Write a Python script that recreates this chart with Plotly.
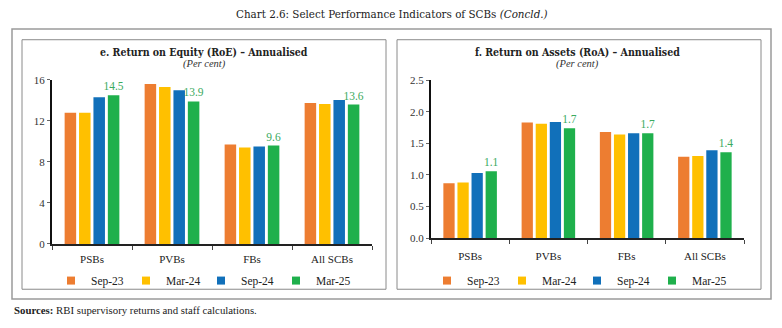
import plotly.graph_objects as go

categories = ["PSBs", "PVBs", "FBs", "All SCBs"]
series_names = ["Sep-23", "Mar-24", "Sep-24", "Mar-25"]
colors = ["#ED7D31", "#FFC000", "#1170BA", "#1FB04C"]

roe_sep23 = [12.8, 15.6, 9.7, 13.75]
roe_mar24 = [12.8, 15.3, 9.4, 13.65]
roe_sep24 = [14.3, 15.0, 9.5, 14.05]
roe_mar25 = [14.5, 13.9, 9.6, 13.6]

roa_sep23 = [0.87, 1.83, 1.68, 1.29]
roa_mar24 = [0.88, 1.81, 1.64, 1.30]
roa_sep24 = [1.03, 1.84, 1.66, 1.39]
roa_mar25 = [1.06, 1.74, 1.66, 1.36]

roe_ticks = [0, 4, 8, 12, 16]
roa_ticks = [0.0, 0.5, 1.0, 1.5, 2.0, 2.5]

W, H = 782, 328
FONT = "Liberation Serif"
TFONT = "DejaVu Serif Condensed, DejaVu Serif"
LABEL_GREEN = "#3AAA5E"

def px(x):
    return x / W

def py(y):
    return 1 - y / H

fig = go.Figure()

roe = [roe_sep23, roe_mar24, roe_sep24, roe_mar25]
roa = [roa_sep23, roa_mar24, roa_sep24, roa_mar25]

panels = [("x", "y", "legend", roe), ("x2", "y2", "legend2", roa)]
for xa, ya, lg, data in panels:
    for i, (name, vals) in enumerate(zip(series_names, data)):
        last = i == 3
        fig.add_trace(go.Bar(
            x=categories, y=vals, name=name, marker_color=colors[i],
            marker_line_width=0, xaxis=xa, yaxis=ya, showlegend=False,
            text=[f"{v:.1f}" for v in vals] if last else None,
            textposition="outside" if last else None,
            constraintext="none",
            textfont=dict(color=LABEL_GREEN, size=11.5, family=FONT),
            cliponaxis=False, hoverinfo="y",
        ))
    # legend entries (small square swatches like the reference)
    for i, name in enumerate(series_names):
        fig.add_trace(go.Scatter(
            x=[None], y=[None], mode="markers", name=name,
            marker=dict(symbol="square", size=8, color=colors[i]),
            xaxis=xa, yaxis=ya, legend=lg, showlegend=True,
        ))

xcommon = dict(
    type="category", showline=True, linecolor="#222", linewidth=1.5,
    ticks="outside", tickson="boundaries", ticklen=4, tickcolor="#444",
    tickfont=dict(family=FONT, size=11, color="#222"), showgrid=False,
    zeroline=False, fixedrange=True,
)
ycommon = dict(
    showline=True, linecolor="#111", linewidth=2, ticks="outside",
    ticklen=3, tickcolor="#666", showgrid=False, zeroline=False,
    tickfont=dict(family=FONT, size=11, color="#333"), fixedrange=True,
)

legend_common = dict(
    orientation="h", xanchor="left", yanchor="middle",
    font=dict(family=FONT, size=11.5, color="#222"),
    entrywidth=30, entrywidthmode="pixels", itemwidth=30,
    bgcolor="rgba(0,0,0,0)", tracegroupgap=0,
)

fig.update_layout(
    width=W, height=H, margin=dict(l=0, r=0, t=0, b=0),
    paper_bgcolor="white", plot_bgcolor="white",
    barmode="group", bargap=0.28, bargroupgap=0.2,
    font=dict(family=FONT),
    xaxis=dict(domain=[px(52), px(372)], anchor="y", ticklabelstandoff=4,
               **xcommon),
    yaxis=dict(domain=[py(247), py(76.7)], anchor="x", range=[0, 16],
               tickvals=roe_ticks, **ycommon),
    xaxis2=dict(domain=[px(431), px(744)], anchor="y2", ticklabelstandoff=7,
                **xcommon),
    yaxis2=dict(domain=[py(241), py(77)], anchor="x2", range=[0, 2.5],
                tickvals=roa_ticks, tickformat=".1f", **ycommon),
    legend=dict(x=px(51), y=py(285), **legend_common),
    legend2=dict(x=px(427), y=py(285), **legend_common),
    showlegend=True,
)

shapes = [
    dict(type="rect", xref="paper", yref="paper", x0=px(12), x1=px(771),
         y0=py(304), y1=py(24), line=dict(color="#9A9A9A", width=1.5)),
    dict(type="rect", xref="paper", yref="paper", x0=px(22), x1=px(386),
         y0=py(294), y1=py(35), line=dict(color="#8A8A8A", width=1)),
    dict(type="rect", xref="paper", yref="paper", x0=px(397), x1=px(761),
         y0=py(294), y1=py(35), line=dict(color="#8A8A8A", width=1)),
]
fig.update_layout(shapes=shapes)

annotations = [
    dict(text="Chart 2.6: Select Performance Indicators of SCBs <i>(Concld.)</i>",
         x=px(392), y=py(8), font=dict(size=11.5, color="#222", family=TFONT)),
    dict(text="<b>e. Return on Equity (RoE) – Annualised</b>",
         x=px(204), y=py(47.5), font=dict(size=10.5, color="#222", family=TFONT)),
    dict(text="<i>(Per cent)</i>", x=px(204), y=py(60.5),
         font=dict(size=10.5, color="#333", family=FONT)),
    dict(text="<b>f. Return on Assets (RoA) – Annualised</b>",
         x=px(577), y=py(47.5), font=dict(size=10.5, color="#222", family=TFONT)),
    dict(text="<i>(Per cent)</i>", x=px(577), y=py(60.5),
         font=dict(size=10.5, color="#333", family=FONT)),
    dict(text="<b>Sources:</b> RBI supervisory returns and staff calculations.",
         x=px(12), y=py(316), xanchor="left",
         font=dict(size=10.8, color="#222", family=FONT)),
]
for a in annotations:
    a.setdefault("xanchor", "center")
    a.update(xref="paper", yref="paper", showarrow=False, yanchor="middle")
fig.update_layout(annotations=annotations)

fig.write_html("out.html")
